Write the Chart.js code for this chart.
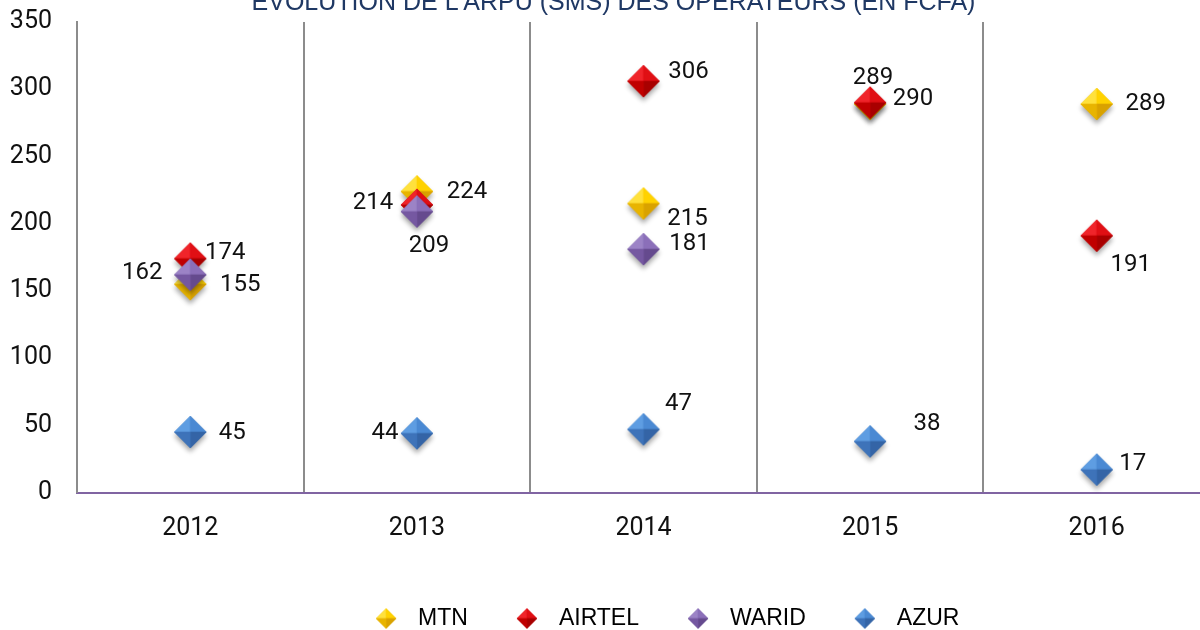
<!DOCTYPE html>
<html>
<head>
<meta charset="utf-8">
<script src="https://cdn.jsdelivr.net/npm/chart.js@4.4.1/dist/chart.umd.min.js"></script>
<style>
  html, body { margin: 0; padding: 0; background: #fff; width: 1200px; height: 630px; overflow: hidden; }
  #wrap { position: absolute; left: 0; top: -50px; width: 1227px; height: 690px; }
</style>
</head>
<body>
<div id="wrap"><canvas id="arpuChart"></canvas></div>
<script>
// Data (FCFA)
const years = ['2012', '2013', '2014', '2015', '2016'];
const mtn = [155, 224, 215, 289, 289];
const airtel = [174, 214, 306, 290, 191];
const warid = [162, 209, 181, null, null];
const azur = [45, 44, 47, 38, 17];
const yTicks = [0, 50, 100, 150, 200, 250, 300, 350];

// where each value label sits relative to its marker (px)
const labelOffsets = [
  [[50, 1], [50, 1], [44, 16], [3, -26], [49, 0]],      // MTN
  [[35, -6], [-44, -2], [45, -9], [43, -4], [34, 29]],  // AIRTEL
  [[-48, -2], [12, 34], [46, -5], null, null],          // WARID
  [[42, 1], [-32, 0], [35, -25], [57, -17], [36, -6]]   // AZUR
];

const NUM_FONT = 'Roboto, "Liberation Sans", sans-serif';
const TXT_FONT = '"Liberation Sans", Arial, sans-serif';

// shaded diamond marker: faces top-left, top-right, bottom-right, bottom-left
function diamond(r, faces, shadow) {
  const pad = shadow ? 10 : 2;
  const c = document.createElement('canvas');
  c.width = c.height = 2 * r + 2 * pad;
  const g = c.getContext('2d');
  const m = r + pad;
  const pts = [[m, m - r], [m + r, m], [m, m + r], [m - r, m]];
  g.save();
  if (shadow) {
    g.shadowColor = 'rgba(0,0,0,0.35)';
    g.shadowBlur = 5;
    g.shadowOffsetY = 4;
  }
  g.beginPath();
  pts.forEach((p, i) => i ? g.lineTo(p[0], p[1]) : g.moveTo(p[0], p[1]));
  g.closePath();
  g.fillStyle = faces[2];
  g.fill();
  g.restore();
  const tris = [[3, 0], [0, 1], [1, 2], [2, 3]];
  tris.forEach(([a, b], i) => {
    g.beginPath();
    g.moveTo(m, m);
    g.lineTo(pts[a][0], pts[a][1]);
    g.lineTo(pts[b][0], pts[b][1]);
    g.closePath();
    g.fillStyle = faces[i];
    g.strokeStyle = faces[i];
    g.lineWidth = 0.6;
    g.fill();
    g.stroke();
  });
  return c;
}

const shades = [
  ['#ffe13c', '#ffd200', '#d9a200', '#e8b400'], // MTN
  ['#f0242a', '#e00f14', '#a80000', '#c00000'], // AIRTEL
  ['#9c83c6', '#8b6fb9', '#654a8e', '#7558a1'], // WARID
  ['#5e9de2', '#4a89d3', '#3464a6', '#3e73b9']  // AZUR
];
const names = ['MTN', 'AIRTEL', 'WARID', 'AZUR'];
const series = [mtn, airtel, warid, azur];

const datasets = series.map((vals, i) => ({
  label: names[i],
  data: vals,
  showLine: false,
  pointStyle: diamond(16, shades[i], true),
  pointRadius: 16,
  pointHoverRadius: 16,
  backgroundColor: shades[i][1],
  borderColor: shades[i][2],
  order: 4 - i,
  clip: false
}));

const legendMarks = shades.map(s => diamond(10, s, false));

// value labels next to each marker
const valueLabels = {
  id: 'valueLabels',
  afterDatasetsDraw(chart) {
    const ctx = chart.ctx;
    ctx.save();
    ctx.font = '24px ' + NUM_FONT;
    ctx.fillStyle = '#111';
    ctx.textAlign = 'center';
    ctx.textBaseline = 'middle';
    chart.data.datasets.forEach((ds, i) => {
      const meta = chart.getDatasetMeta(i);
      meta.data.forEach((pt, j) => {
        const off = labelOffsets[i][j];
        if (ds.data[j] == null || !off) return;
        ctx.fillText(String(ds.data[j]), pt.x + off[0], pt.y + off[1]);
      });
    });
    ctx.restore();
  }
};

// nudge the legend to the right, as in the original
const legendShift = {
  id: 'legendShift',
  afterLayout(chart) {
    chart.legend.left += 19;
    chart.legend.right += 19;
  }
};

new Chart(document.getElementById('arpuChart'), {
  type: 'line',
  data: { labels: years, datasets },
  plugins: [valueLabels, legendShift],
  options: {
    responsive: true,
    maintainAspectRatio: false,
    animation: false,
    layout: { padding: 0 },
    plugins: {
      title: {
        display: true,
        text: "EVOLUTION DE L'ARPU (SMS) DES OPERATEURS (EN FCFA)",
        color: '#1f3864',
        font: { family: TXT_FONT, size: 25, weight: 'normal' },
        padding: { top: 38, bottom: 4 }
      },
      legend: {
        position: 'bottom',
        fullSize: false,
        labels: {
          usePointStyle: true,
          pointStyleWidth: 41,
          padding: 38.5,
          color: '#111',
          font: { family: TXT_FONT, size: 23 },
          generateLabels: chart => chart.data.datasets.map((ds, i) => ({
            text: ds.label,
            pointStyle: legendMarks[i],
            fillStyle: shades[i][1],
            strokeStyle: shades[i][1],
            lineWidth: 0,
            hidden: false,
            datasetIndex: i
          }))
        }
      },
      tooltip: { enabled: false }
    },
    scales: {
      x: {
        offset: true,
        grid: { display: true, offset: true, color: '#8c8c8c', lineWidth: 2, drawTicks: false },
        border: { display: true, color: '#8064a2', width: 2 },
        ticks: { padding: 21, color: '#111', font: { family: NUM_FONT, size: 25 } },
        afterFit(scale) { scale.height = 76; }
      },
      y: {
        min: 0,
        max: 350,
        afterBuildTicks(scale) { scale.ticks = yTicks.map(v => ({ value: v })); },
        grid: { display: false, drawTicks: false },
        border: { display: true, color: '#8c8c8c', width: 2 },
        ticks: { padding: 25, color: '#111', font: { family: NUM_FONT, size: 25 } },
        afterFit(scale) { scale.width = 77; }
      }
    }
  }
});
</script>
</body>
</html>
